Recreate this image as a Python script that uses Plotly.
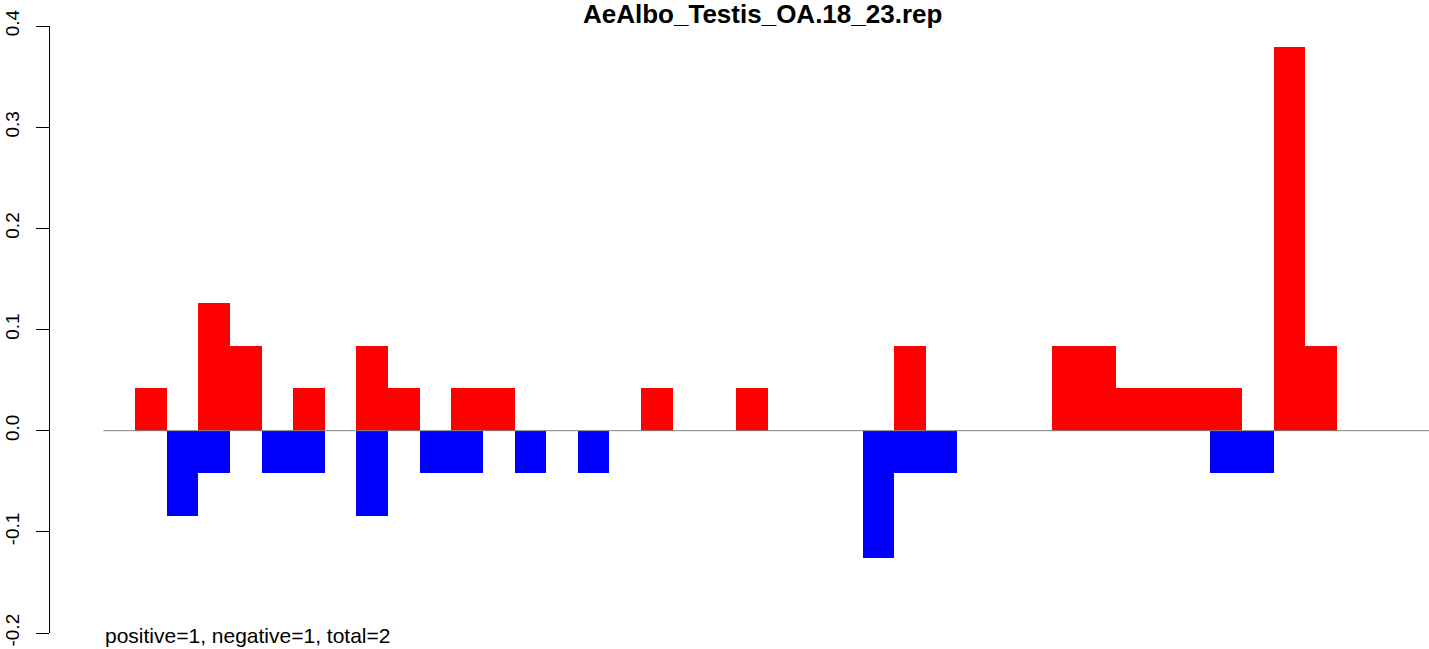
import plotly.graph_objects as go

title = "AeAlbo_Testis_OA.18_23.rep"
footer = "positive=1, negative=1, total=2"

n_bins = 38
bin_index = list(range(n_bins))
positive = [0.042, 0, 0.126, 0.084, 0, 0.042, 0, 0.084, 0.042, 0,
            0.042, 0.042, 0, 0, 0, 0, 0.042, 0, 0, 0.042,
            0, 0, 0, 0, 0.084, 0, 0, 0, 0, 0.084,
            0.084, 0.042, 0.042, 0.042, 0.042, 0, 0.379, 0.084]
negative = [0, -0.084, -0.042, 0, -0.042, -0.042, 0, -0.084, 0, -0.042,
            -0.042, 0, -0.042, 0, -0.042, 0, 0, 0, 0, 0,
            0, 0, 0, -0.126, -0.042, -0.042, 0, 0, 0, 0,
            0, 0, 0, 0, -0.042, -0.042, 0, 0]
y_ticks = [-0.2, -0.1, 0.0, 0.1, 0.2, 0.3, 0.4]
y_tick_text = ["-0.2", "-0.1", "0.0", "0.1", "0.2", "0.3", "0.4"]

FONT = "Liberation Sans, Arial, Helvetica, sans-serif"

xc = [i + 0.5 for i in bin_index]
pos = [v if v != 0 else None for v in positive]
neg = [v if v != 0 else None for v in negative]

fig = go.Figure()
fig.add_trace(go.Bar(x=xc, y=pos, width=1, marker=dict(color="#FF0000", line=dict(width=0)),
                     showlegend=False))
fig.add_trace(go.Bar(x=xc, y=neg, width=1, marker=dict(color="#0000FF", line=dict(width=0)),
                     showlegend=False))

fig.add_shape(type="line", xref="x", yref="y", x0=-1, x1=41.5, y0=0, y1=0,
              line=dict(color="#7f7f7f", width=1))

fig.add_annotation(text="<b>" + title + "</b>", xref="paper", yref="paper", x=0.517, y=1, yshift=12,
                   xanchor="center", yanchor="middle", showarrow=False,
                   font=dict(family=FONT, size=26, color="black"))
fig.add_annotation(text=footer, xref="x", yref="paper", x=-1, y=0, yshift=-16,
                   xanchor="left", yanchor="bottom", showarrow=False,
                   font=dict(family=FONT, size=21, color="black"))

fig.update_layout(
    width=1429, height=649,
    margin=dict(l=50, r=0, t=26, b=16, autoexpand=False),
    paper_bgcolor="white", plot_bgcolor="white",
    barmode="overlay", bargap=0,
    font=dict(family=FONT, size=16, color="black"),
    xaxis=dict(range=[-2.687, 40.91], showgrid=False, zeroline=False, showline=False,
               showticklabels=False, ticks="", automargin=False),
    yaxis=dict(range=[-0.2, 0.4], tickvals=y_ticks, ticktext=y_tick_text, automargin=False,
               showgrid=False, zeroline=False, showline=True, linecolor="black", linewidth=1,
               ticks="outside", ticklen=13, tickwidth=1, tickcolor="black",
               ticklabelstandoff=9,
               tickangle=-90, tickfont=dict(family=FONT, size=19, color="black")),
)

fig.write_html("out.html", config={"displayModeBar": False},
               post_script="document.body.style.margin='0';document.body.style.overflow='hidden';")
